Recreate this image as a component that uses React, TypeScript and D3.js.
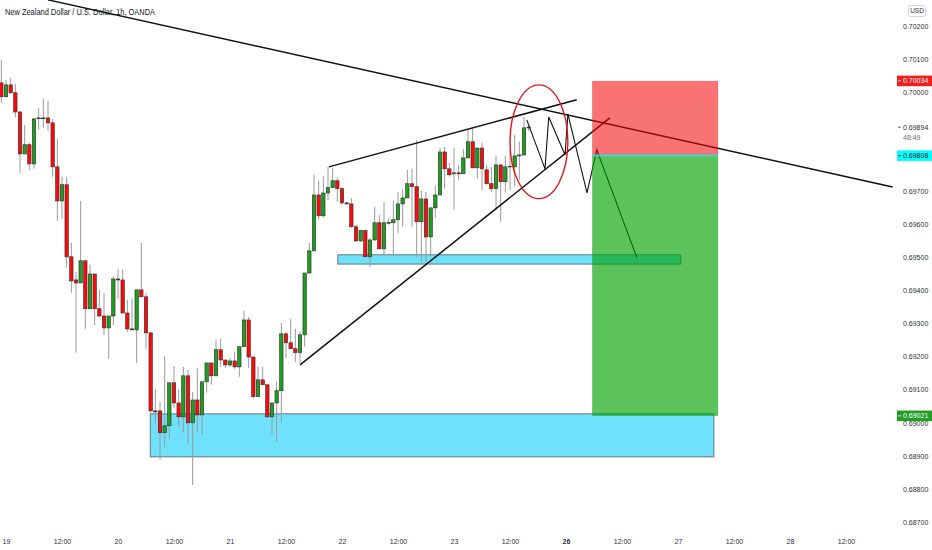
import { useEffect, useRef } from 'react'
import * as d3 from 'd3'

const W = 932
const H = 550
const FONT = 'Liberation Sans, Arial, sans-serif'

// hourly bars, first one is 18th 23:00 (hour -1 from the 19th)
const FIRST_HOUR = -1
const OPEN = [
  0.70028, 0.69986, 0.70022, 0.69998, 0.6994, 0.69813, 0.69841, 0.69783, 0.69921, 0.69922,
  0.69922, 0.69907, 0.69774, 0.69671, 0.6972, 0.69502, 0.69432, 0.69423, 0.6949, 0.69345,
  0.6945, 0.69345, 0.69323, 0.69287, 0.69323, 0.69435, 0.69432, 0.69332, 0.69284, 0.69281,
  0.69402, 0.69381, 0.69272, 0.69036, 0.69036, 0.6897, 0.68991, 0.69121, 0.6906, 0.69018,
  0.69142, 0.69, 0.69069, 0.69024, 0.69124, 0.69181, 0.69142, 0.69221, 0.6919, 0.69175,
  0.69187, 0.69169, 0.6923, 0.69311, 0.69199, 0.69079, 0.6913, 0.69115, 0.69018, 0.6906,
  0.69097, 0.69269, 0.69242, 0.69224, 0.69212, 0.69266, 0.69453, 0.6952, 0.69689, 0.69626,
  0.69695, 0.69711, 0.69732, 0.69708, 0.69665, 0.69662, 0.69593, 0.6955, 0.69581, 0.69502,
  0.69553, 0.69605, 0.69526, 0.69605, 0.69605, 0.69614, 0.69662, 0.6968, 0.69723, 0.69714,
  0.69608, 0.69677, 0.69562, 0.6965, 0.69689, 0.69819, 0.69768, 0.69753, 0.69756, 0.69753,
  0.69801, 0.6985, 0.69771, 0.69831, 0.69765, 0.69723, 0.69708, 0.6978, 0.69729, 0.69774,
  0.69774, 0.69807, 0.6981, 0.69892,
]
const HIGH = [
  0.70098, 0.70037, 0.70043, 0.70025, 0.69943, 0.69901, 0.69847, 0.69922, 0.69952, 0.6998,
  0.69974, 0.69919, 0.69859, 0.69744, 0.69744, 0.69544, 0.69457, 0.69671, 0.6949, 0.69478,
  0.6945, 0.69402, 0.69393, 0.69323, 0.69444, 0.69466, 0.69463, 0.69372, 0.69375, 0.69402,
  0.69544, 0.69393, 0.69272, 0.69103, 0.69063, 0.69202, 0.69121, 0.69172, 0.691, 0.69169,
  0.6916, 0.69094, 0.69166, 0.69124, 0.69181, 0.69181, 0.69251, 0.69254, 0.6919, 0.69196,
  0.69215, 0.6923, 0.69339, 0.6932, 0.69199, 0.69169, 0.69169, 0.69115, 0.6906, 0.69124,
  0.69302, 0.69275, 0.69314, 0.69284, 0.69275, 0.69453, 0.69544, 0.6975, 0.69732, 0.69747,
  0.69774, 0.69771, 0.69741, 0.69714, 0.69668, 0.6968, 0.69599, 0.69584, 0.69584, 0.69559,
  0.69653, 0.69629, 0.69668, 0.6962, 0.69671, 0.69698, 0.69708, 0.69765, 0.69768, 0.69855,
  0.69701, 0.69698, 0.6965, 0.69717, 0.69831, 0.69834, 0.69786, 0.69831, 0.6978, 0.69828,
  0.69889, 0.69892, 0.69831, 0.69847, 0.6978, 0.69774, 0.69807, 0.6978, 0.69807, 0.69825,
  0.69871, 0.6985, 0.69925, 0.69904,
]
const LOW = [
  0.69968, 0.69986, 0.69995, 0.69925, 0.69756, 0.69813, 0.69765, 0.69768, 0.69886, 0.69892,
  0.69883, 0.69744, 0.69611, 0.69617, 0.69469, 0.69393, 0.69212, 0.69423, 0.69284, 0.69345,
  0.69296, 0.6932, 0.69266, 0.69193, 0.69296, 0.69375, 0.69332, 0.69275, 0.69281, 0.69181,
  0.69381, 0.69224, 0.6903, 0.69, 0.68888, 0.68927, 0.68951, 0.69045, 0.68991, 0.6897,
  0.68936, 0.68812, 0.6897, 0.68964, 0.69091, 0.69115, 0.69142, 0.69169, 0.69166, 0.69169,
  0.69163, 0.69139, 0.6923, 0.69166, 0.69075, 0.69079, 0.69115, 0.69015, 0.68964, 0.68942,
  0.69, 0.69196, 0.69224, 0.69184, 0.69181, 0.6923, 0.69453, 0.6952, 0.69614, 0.6962,
  0.69674, 0.69711, 0.69668, 0.69659, 0.69659, 0.6959, 0.69547, 0.69547, 0.69502, 0.69472,
  0.6955, 0.69526, 0.69505, 0.69599, 0.69505, 0.69574, 0.69593, 0.6968, 0.69593, 0.69502,
  0.69487, 0.69487, 0.69502, 0.6962, 0.69689, 0.69708, 0.69744, 0.69644, 0.69735, 0.69753,
  0.69801, 0.69771, 0.69738, 0.69704, 0.6972, 0.69698, 0.69644, 0.69608, 0.69698, 0.69704,
  0.69714, 0.69735, 0.6981, 0.69883,
]
const CLOSE = [
  0.69986, 0.70022, 0.69998, 0.6994, 0.69813, 0.69841, 0.69783, 0.69919, 0.69922, 0.69921,
  0.69907, 0.69774, 0.69671, 0.6972, 0.69502, 0.69429, 0.69423, 0.6949, 0.69345, 0.6945,
  0.69345, 0.69323, 0.69287, 0.69323, 0.69435, 0.69432, 0.69332, 0.69284, 0.69281, 0.69402,
  0.69381, 0.69272, 0.69036, 0.69033, 0.6897, 0.68991, 0.69121, 0.6906, 0.69018, 0.69142,
  0.69, 0.69069, 0.69024, 0.69124, 0.69181, 0.69142, 0.69221, 0.6919, 0.69175, 0.69187,
  0.69169, 0.6923, 0.69311, 0.69199, 0.69079, 0.6913, 0.69115, 0.69018, 0.6906, 0.69097,
  0.69269, 0.69242, 0.69224, 0.69212, 0.69266, 0.69453, 0.6952, 0.69689, 0.69626, 0.69695,
  0.69711, 0.69732, 0.69708, 0.69665, 0.69662, 0.69593, 0.6955, 0.69581, 0.69502, 0.69553,
  0.69605, 0.69526, 0.69605, 0.69606, 0.69614, 0.69662, 0.6968, 0.69723, 0.69714, 0.69608,
  0.69677, 0.69562, 0.6965, 0.69689, 0.69819, 0.69768, 0.6975, 0.69756, 0.69753, 0.69801,
  0.6985, 0.69771, 0.69831, 0.69768, 0.69723, 0.69708, 0.6978, 0.69729, 0.69774, 0.69776,
  0.69807, 0.6981, 0.69892, 0.69894,
]

const PRICE_TICKS = [0.702, 0.701, 0.7, 0.697, 0.696, 0.695, 0.694, 0.693, 0.692, 0.691, 0.69, 0.689, 0.688, 0.687]
const TIME_TICKS = [0, 12, 24, 36, 48, 60, 72, 84, 96, 108, 120, 132, 144, 156, 168, 180]
const TIME_LABELS = ['19', '12:00', '20', '12:00', '21', '12:00', '22', '12:00', '23', '12:00', '26', '12:00', '27', '12:00', '28', '12:00']

// drawings, as [hour, price]
const TREND_LINE: [number, number][] = [[9, 0.70279], [190, 0.69713]]
const WEDGE_TOP: [number, number][] = [[69.2, 0.69774], [122.3, 0.69977]]
const WEDGE_BOTTOM: [number, number][] = [[63, 0.69175], [129.4, 0.69922]]
const ZIGZAG: [number, number][] = [
  [111.6, 0.69916], [115.5, 0.69768], [116.3, 0.69925], [119.8, 0.6981],
  [120.4, 0.69934], [124.5, 0.69695], [126.6, 0.69825], [135.2, 0.69499],
]
const SUPPORT_ZONE = { from: 30.9, to: 151.7, top: 0.69027, bottom: 0.68897 }
const MID_ZONE = { from: 71.1, to: 144.6, top: 0.69508, bottom: 0.6948 }
const POSITION = { from: 125.6, to: 152.6, stop: 0.70034, entry: 0.69808, target: 0.69021 }
const HIGHLIGHT = { hour: 114.2, price: 0.6985, dHour: 6.2, dPrice: 0.00172 }
const LAST_PRICE = 0.69894
const COUNTDOWN = '48:49'

export default function App() {
  const svgRef = useRef<SVGSVGElement>(null)

  useEffect(() => {
    if (!svgRef.current) return
    const svg = d3.select(svgRef.current)
    svg.selectAll('*').remove()

    const x = d3.scaleLinear().domain([0, 24]).range([6, 118])
    const y = d3.scaleLinear().domain([0.687, 0.702]).range([522, 26])

    svg.append('rect').attr('width', W).attr('height', H).attr('fill', '#fff')

    svg.append('clipPath').attr('id', 'plot')
      .append('rect').attr('x', 0).attr('y', 0).attr('width', 896).attr('height', 530)

    const plot = svg.append('g').attr('clip-path', 'url(#plot)')

    // blue zones
    for (const z of [SUPPORT_ZONE, MID_ZONE]) {
      plot.append('rect')
        .attr('x', x(z.from)).attr('y', y(z.top))
        .attr('width', x(z.to) - x(z.from)).attr('height', y(z.bottom) - y(z.top))
        .attr('fill', '#6fe1fb').attr('stroke', '#4f5f66').attr('stroke-width', 0.8)
    }

    // candles
    const bars = OPEN.map((o, i) => ({ h: i + FIRST_HOUR, o, hi: HIGH[i], lo: LOW[i], c: CLOSE[i] }))
    const bw = 3.4
    const g = plot.append('g')
    g.selectAll('line.wick').data(bars).join('line')
      .attr('x1', (d) => x(d.h)).attr('x2', (d) => x(d.h))
      .attr('y1', (d) => y(d.hi)).attr('y2', (d) => y(d.lo))
      .attr('stroke', '#9a9a9a').attr('stroke-width', 1)
    g.selectAll('rect.body').data(bars).join('rect')
      .attr('x', (d) => x(d.h) - bw / 2)
      .attr('y', (d) => y(Math.max(d.o, d.c)))
      .attr('width', bw)
      .attr('height', (d) => Math.max(0.8, Math.abs(y(d.o) - y(d.c))))
      .attr('fill', (d) => (d.c >= d.o ? '#1d9e1d' : '#ff0a0a'))
      .attr('stroke', '#2b2b2b').attr('stroke-width', 0.6)

    const line = d3.line<[number, number]>().x((d) => x(d[0])).y((d) => y(d[1]))
    for (const pts of [TREND_LINE, WEDGE_TOP, WEDGE_BOTTOM]) {
      plot.append('path').attr('d', line(pts)).attr('fill', 'none')
        .attr('stroke', '#111').attr('stroke-width', 1.5)
    }
    plot.append('path').attr('d', line(ZIGZAG)).attr('fill', 'none')
      .attr('stroke', '#111').attr('stroke-width', 1.1).attr('stroke-linejoin', 'miter')

    plot.append('ellipse')
      .attr('cx', x(HIGHLIGHT.hour)).attr('cy', y(HIGHLIGHT.price))
      .attr('rx', x(HIGHLIGHT.dHour) - x(0)).attr('ry', y(0.69) - y(0.69 + HIGHLIGHT.dPrice))
      .attr('fill', 'none').attr('stroke', '#e0161b').attr('stroke-width', 1.4)

    // short position
    const px = x(POSITION.from)
    const pw = x(POSITION.to) - px
    plot.append('rect').attr('x', px).attr('y', y(POSITION.stop))
      .attr('width', pw).attr('height', y(POSITION.entry) - y(POSITION.stop))
      .attr('fill', 'rgb(242,0,0)').attr('fill-opacity', 0.55)
    plot.append('rect').attr('x', px).attr('y', y(POSITION.entry))
      .attr('width', pw).attr('height', y(POSITION.target) - y(POSITION.entry))
      .attr('fill', 'rgb(0,160,0)').attr('fill-opacity', 0.64)
    plot.append('line').attr('x1', px).attr('x2', px + pw)
      .attr('y1', y(POSITION.entry)).attr('y2', y(POSITION.entry))
      .attr('stroke', '#22e3f2').attr('stroke-width', 1.5)

    // title
    svg.append('text').attr('x', 5).attr('y', 14.5)
      .attr('font-family', FONT).attr('font-size', 8.5).attr('fill', '#131722')
      .attr('textLength', 150).attr('lengthAdjust', 'spacingAndGlyphs')
      .text('New Zealand Dollar / U.S. Dollar, 1h, OANDA')

    // time axis
    const xAxis = svg.append('g').attr('transform', 'translate(0,544)')
      .call(d3.axisBottom(x).tickValues(TIME_TICKS).tickFormat((_d, i) => TIME_LABELS[i]).tickSize(0))
    xAxis.select('.domain').remove()
    xAxis.selectAll('text')
      .attr('y', 0).attr('dy', null)
      .attr('font-family', FONT).attr('font-size', 7).attr('fill', '#2a2e39')
      .attr('font-weight', (_d, i) => (TIME_LABELS[i] === '26' ? 'bold' : 'normal'))

    // price axis
    const yAxis = svg.append('g').attr('transform', 'translate(898,0)')
      .call(d3.axisRight(y).tickValues(PRICE_TICKS).tickFormat(d3.format('.5f')).tickSize(0).tickPadding(5))
    yAxis.select('.domain').remove()
    yAxis.selectAll('text').attr('font-family', FONT).attr('font-size', 7).attr('fill', '#2a2e39')

    svg.append('rect').attr('x', 908.5).attr('y', 5.5).attr('width', 17).attr('height', 11).attr('rx', 2)
      .attr('fill', '#fff').attr('stroke', '#c8cad0').attr('stroke-width', 0.8)
    svg.append('text').attr('x', 917).attr('y', 13.3).attr('text-anchor', 'middle')
      .attr('font-family', FONT).attr('font-size', 6.5).attr('fill', '#2a2e39').text('USD')

    // price tags
    const fmt = d3.format('.5f')
    const tags = [
      { v: POSITION.stop, bg: '#f21d1d', fg: '#fff' },
      { v: LAST_PRICE, bg: null, fg: '#2a2e39' },
      { v: POSITION.entry, bg: '#00ffff', fg: '#131722' },
      { v: POSITION.target, bg: '#1f9e22', fg: '#fff' },
    ]
    for (const t of tags) {
      const cy = y(t.v)
      if (t.bg) {
        svg.append('rect').attr('x', 897).attr('y', cy - 5.3).attr('width', 35).attr('height', 10.6)
          .attr('fill', t.bg)
      }
      svg.append('line').attr('x1', 898).attr('x2', 901).attr('y1', cy).attr('y2', cy)
        .attr('stroke', t.fg).attr('stroke-width', 0.8)
      svg.append('text').attr('x', 903).attr('y', cy).attr('dy', '0.34em')
        .attr('font-family', FONT).attr('font-size', 7).attr('fill', t.fg).text(fmt(t.v))
    }
    svg.append('text').attr('x', 903).attr('y', y(LAST_PRICE) + 10).attr('dy', '0.34em')
      .attr('font-family', FONT).attr('font-size', 7).attr('fill', '#6a6d78').text(COUNTDOWN)
  }, [])

  return (
    <svg
      ref={svgRef}
      width={W}
      height={H}
      style={{ position: 'absolute', left: 0, top: 0, display: 'block' }}
    />
  )
}
